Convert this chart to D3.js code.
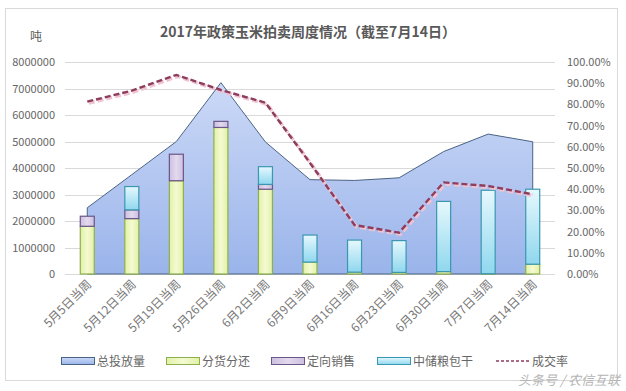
<!DOCTYPE html>
<html><head><meta charset="utf-8">
<script src="https://cdn.jsdelivr.net/npm/d3@7"></script>
<style>html,body{margin:0;padding:0;background:#fff;}svg{display:block;}</style>
</head><body>
<svg id="c" width="626" height="391"></svg>
<script>
const categories = ["5月5日当周","5月12日当周","5月19日当周","5月26日当周","6月2日当周","6月9日当周","6月16日当周","6月23日当周","6月30日当周","7月7日当周","7月14日当周"];
const totalRelease = [2500000, 3750000, 5000000, 7220000, 4980000, 3560000, 3530000, 3630000, 4620000, 5280000, 4990000];
const fenhuo = [1800000, 2090000, 3520000, 5530000, 3200000, 450000, 70000, 60000, 90000, 10000, 370000];
const dingxiang = [380000, 330000, 1000000, 230000, 180000, 0, 0, 0, 0, 0, 0];
const zhongchu = [0, 880000, 0, 0, 670000, 1020000, 1210000, 1200000, 2650000, 3150000, 2830000];
const dealRate = [0.813, 0.865, 0.939, 0.868, 0.808, 0.524, 0.231, 0.195, 0.432, 0.415, 0.376];
const leftTicks = [0,1000000,2000000,3000000,4000000,5000000,6000000,7000000,8000000];
const rightTicks = [0,0.1,0.2,0.3,0.4,0.5,0.6,0.7,0.8,0.9,1.0];
const seriesNames = ["总投放量","分货分还","定向销售","中储粮包干","成交率"];
const titleText = "2017年政策玉米拍卖周度情况（截至7月14日）";

const FONT = "'Noto Sans CJK SC','Noto Sans',sans-serif";
const svg = d3.select("#c");
const defs = svg.append("defs");
function vgrad(id, stops){
  const g = defs.append("linearGradient").attr("id", id).attr("x1",0).attr("y1",0).attr("x2",0).attr("y2",1);
  stops.forEach(s=>g.append("stop").attr("offset",s[0]).attr("stop-color",s[1]));
}
function hgrad(id, stops){
  const g = defs.append("linearGradient").attr("id", id).attr("x1",0).attr("y1",0).attr("x2",1).attr("y2",0);
  stops.forEach(s=>g.append("stop").attr("offset",s[0]).attr("stop-color",s[1]));
}
vgrad("gArea", [[0,"#ccd9f7"],[1,"#9ab4ea"]]);
hgrad("gGreen", [[0,"#e2f1a6"],[0.5,"#f4fad2"],[1,"#e2f1a6"]]);
hgrad("gPurple", [[0,"#cdbfe0"],[0.5,"#e2daee"],[1,"#cdbfe0"]]);
vgrad("gCyan", [[0,"#e6f8fd"],[1,"#8fd7ee"]]);

// frame
svg.append("rect").attr("x",5.5).attr("y",8.5).attr("width",612).attr("height",372)
  .attr("fill","#fff").attr("stroke","#d9d9d9");

const x = d3.scaleBand().domain(categories).range([65,555]).padding(0);
const y = d3.scaleLinear().domain([0,8000000]).range([274,62]);
const yR = d3.scaleLinear().domain([0,1]).range([274,62]);
const cx = c => x(c) + x.bandwidth()/2;

// gridlines
svg.append("g").selectAll("line").data(leftTicks).join("line")
  .attr("x1",65).attr("x2",555).attr("y1",d=>Math.round(y(d))+0.5).attr("y2",d=>Math.round(y(d))+0.5)
  .attr("stroke","#d9d9d9").attr("stroke-width",1);

// left axis
const la = svg.append("g").attr("transform","translate(60,0)")
  .call(d3.axisLeft(y).tickValues(leftTicks).tickFormat(d3.format("d")).tickSize(0).tickPadding(5));
la.select(".domain").remove();
la.selectAll("text").attr("font-family",FONT).attr("font-size",11).attr("fill","#666");

// right axis
const ra = svg.append("g").attr("transform","translate(562,0)")
  .call(d3.axisRight(yR).tickValues(rightTicks).tickFormat(d=>(d*100).toFixed(2)+"%").tickSize(0).tickPadding(5));
ra.select(".domain").remove();
ra.selectAll("text").attr("font-family",FONT).attr("font-size",11).attr("fill","#666");

// area
const area = d3.area().x((d,i)=>cx(categories[i])).y0(y(0)).y1(d=>y(d));
svg.append("path").datum(totalRelease).attr("d",area)
  .attr("fill","url(#gArea)").attr("stroke","#4a6484").attr("stroke-width",1);

// stacked bars
const stackData = categories.map((c,i)=>({cat:c, fenhuo:fenhuo[i], dingxiang:dingxiang[i], zhongchu:zhongchu[i]}));
const keys = ["fenhuo","dingxiang","zhongchu"];
const stacked = d3.stack().keys(keys)(stackData);
const fills = {fenhuo:"url(#gGreen)", dingxiang:"url(#gPurple)", zhongchu:"url(#gCyan)"};
const strokes = {fenhuo:"#8db04e", dingxiang:"#6a5687", zhongchu:"#3a97b1"};
const bw = 14;
stacked.forEach(layer=>{
  svg.append("g").selectAll("rect").data(layer.filter(d=>d[1]-d[0]>0)).join("rect")
    .attr("x",d=>cx(d.data.cat)-bw/2)
    .attr("y",d=>y(d[1]))
    .attr("width",bw)
    .attr("height",d=>y(d[0])-y(d[1]))
    .attr("fill",fills[layer.key]).attr("stroke",strokes[layer.key]).attr("stroke-width",1.2);
});

// rate line
const line = d3.line().x((d,i)=>cx(categories[i])).y(d=>yR(d));
svg.append("path").datum(dealRate).attr("d",line).attr("transform","translate(1.5,1.5)")
  .attr("fill","none").attr("stroke","#efc3d2").attr("stroke-width",3.5).attr("stroke-dasharray","6,3");
svg.append("path").datum(dealRate).attr("d",line)
  .attr("fill","none").attr("stroke","#8e3d5c").attr("stroke-width",2.4).attr("stroke-dasharray","6,3");

// x labels
svg.append("g").selectAll("text").data(categories).join("text")
  .attr("transform",d=>`translate(${cx(d)+5},${285}) rotate(-45)`)
  .attr("text-anchor","end").attr("font-family",FONT).attr("font-size",12).attr("fill","#777")
  .text(d=>d);

// title
svg.append("text").attr("x",308).attr("y",37).attr("text-anchor","middle")
  .attr("font-family",FONT).attr("font-size",14).attr("font-weight","bold").attr("fill","#595959")
  .text(titleText);
svg.append("text").attr("x",36).attr("y",41).attr("text-anchor","middle")
  .attr("font-family",FONT).attr("font-size",12).attr("fill","#595959").text("吨");

// legend
const legend = [
  {name:seriesNames[0], x:61, type:"rect", fill:"url(#gArea)", stroke:"#4a6484"},
  {name:seriesNames[1], x:166, type:"rect", fill:"url(#gGreen)", stroke:"#8db04e"},
  {name:seriesNames[2], x:271, type:"rect", fill:"url(#gPurple)", stroke:"#6a5687"},
  {name:seriesNames[3], x:377, type:"rect", fill:"url(#gCyan)", stroke:"#3a97b1"},
  {name:seriesNames[4], x:496, type:"line"}
];
const lg = svg.append("g");
legend.forEach(l=>{
  if(l.type==="rect"){
    lg.append("rect").attr("x",l.x+0.5).attr("y",357.5).attr("width",33).attr("height",7)
      .attr("fill",l.fill).attr("stroke",l.stroke);
  } else {
    lg.append("line").attr("x1",l.x).attr("x2",l.x+34).attr("y1",361).attr("y2",361)
      .attr("stroke","#8e3d5c").attr("stroke-width",1.5).attr("stroke-dasharray","3,2");
  }
  lg.append("text").attr("x",l.x+36).attr("y",365.5).attr("font-family",FONT).attr("font-size",12)
    .attr("fill","#666").text(l.name);
});

// watermark text
svg.append("text").attr("x",620).attr("y",385).attr("text-anchor","end")
  .attr("font-family",FONT).attr("font-size",13).attr("fill","#b5b5b5").attr("font-style","italic")
  .text("头条号 / 农信互联");
</script>
</body></html>
